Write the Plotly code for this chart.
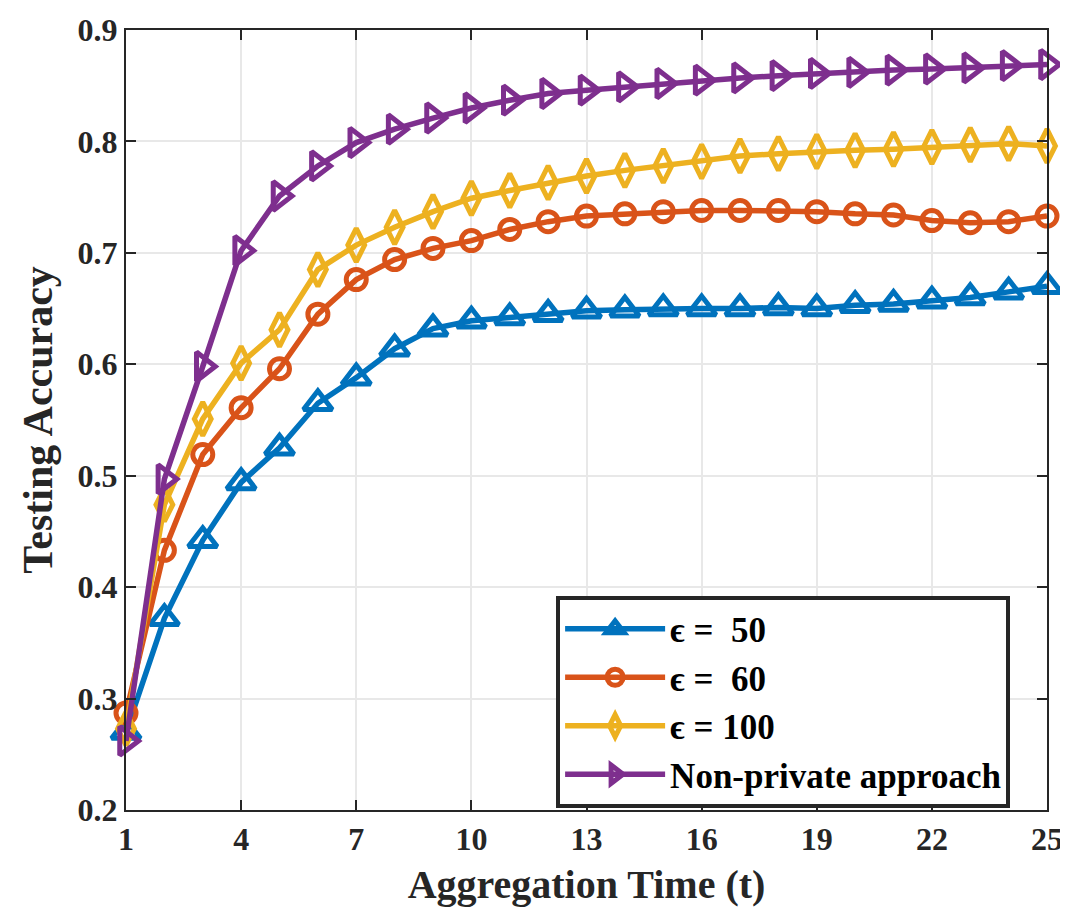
import plotly.graph_objects as go

t = list(range(1, 26))
tick_vals = [1, 4, 7, 10, 13, 16, 19, 22, 25]
y_ticks = [0.2, 0.3, 0.4, 0.5, 0.6, 0.7, 0.8, 0.9]

eps50 = [0.270, 0.372, 0.442, 0.494, 0.525, 0.565, 0.588, 0.614, 0.632, 0.639,
         0.642, 0.645, 0.648, 0.649, 0.650, 0.650, 0.650, 0.651, 0.650, 0.653,
         0.654, 0.657, 0.660, 0.665, 0.670]
eps60 = [0.287, 0.433, 0.519, 0.561, 0.596, 0.645, 0.676, 0.694, 0.704, 0.711,
         0.721, 0.728, 0.733, 0.735, 0.737, 0.738, 0.738, 0.738, 0.737, 0.735,
         0.734, 0.729, 0.727, 0.728, 0.733]
eps100 = [0.273, 0.474, 0.551, 0.601, 0.631, 0.685, 0.707, 0.723, 0.737, 0.749,
          0.756, 0.763, 0.769, 0.774, 0.778, 0.782, 0.787, 0.789, 0.791, 0.792,
          0.793, 0.795, 0.797, 0.798, 0.796]
nonpriv = [0.262, 0.497, 0.598, 0.702, 0.751, 0.778, 0.799, 0.811, 0.821, 0.830,
           0.837, 0.843, 0.846, 0.849, 0.852, 0.855, 0.857, 0.859, 0.861, 0.862,
           0.864, 0.865, 0.866, 0.868, 0.869]

names = ["ϵ =  50", "ϵ =  60", "ϵ = 100", "Non-private approach"]
colors = ["#0072BD", "#D95319", "#EDB120", "#7E2F8E"]
symbols = ["triangle-up-open", "circle-open", "diamond-tall-open", "triangle-right-open"]
sizes = [25, 20, 24, 25]
series = [eps50, eps60, eps100, nonpriv]

FONT = "Liberation Serif"
AX = "#262626"

fig = go.Figure()
for name, ys, c, s, sz in zip(names, series, colors, symbols, sizes):
    fig.add_trace(go.Scatter(
        x=t, y=ys, name=name, mode="lines+markers",
        line=dict(color=c, width=5.5),
        marker=dict(symbol=s, size=sz, color=c, line=dict(width=5, color=c)),
        cliponaxis=False,
    ))

axis_common = dict(
    showline=True, linecolor=AX, linewidth=2, mirror="ticks",
    ticks="inside", ticklen=10, tickwidth=1.5, tickcolor=AX,
    showgrid=True, gridcolor="#e8e8e8", gridwidth=1.5,
    zeroline=False, automargin=False, ticklabeloverflow="allow",
    tickfont=dict(family=FONT, size=32, color=AX, weight="bold"),
)

fig.update_layout(
    width=1068, height=917,
    margin=dict(l=118, r=29, t=22, b=115),
    paper_bgcolor="white", plot_bgcolor="white",
    xaxis=dict(range=[1, 25], tickvals=tick_vals, **axis_common,
               title=dict(text="Aggregation Time (t)", standoff=14,
                          font=dict(family=FONT, size=40, color=AX, weight="bold"))),
    yaxis=dict(range=[0.2, 0.9], tickvals=y_ticks, tickformat=".1f", **axis_common,
               title=dict(text="Testing Accuracy", standoff=12,
                          font=dict(family=FONT, size=42, color=AX, weight="bold"))),
    legend=dict(x=0.467, y=0.275, xanchor="left", yanchor="top",
                bgcolor="white", bordercolor=AX, borderwidth=4,
                font=dict(family=FONT, size=35, color="black", weight="bold"),
                itemwidth=100, tracegroupgap=0),
    showlegend=True,
)

fig.write_html("out.html")
